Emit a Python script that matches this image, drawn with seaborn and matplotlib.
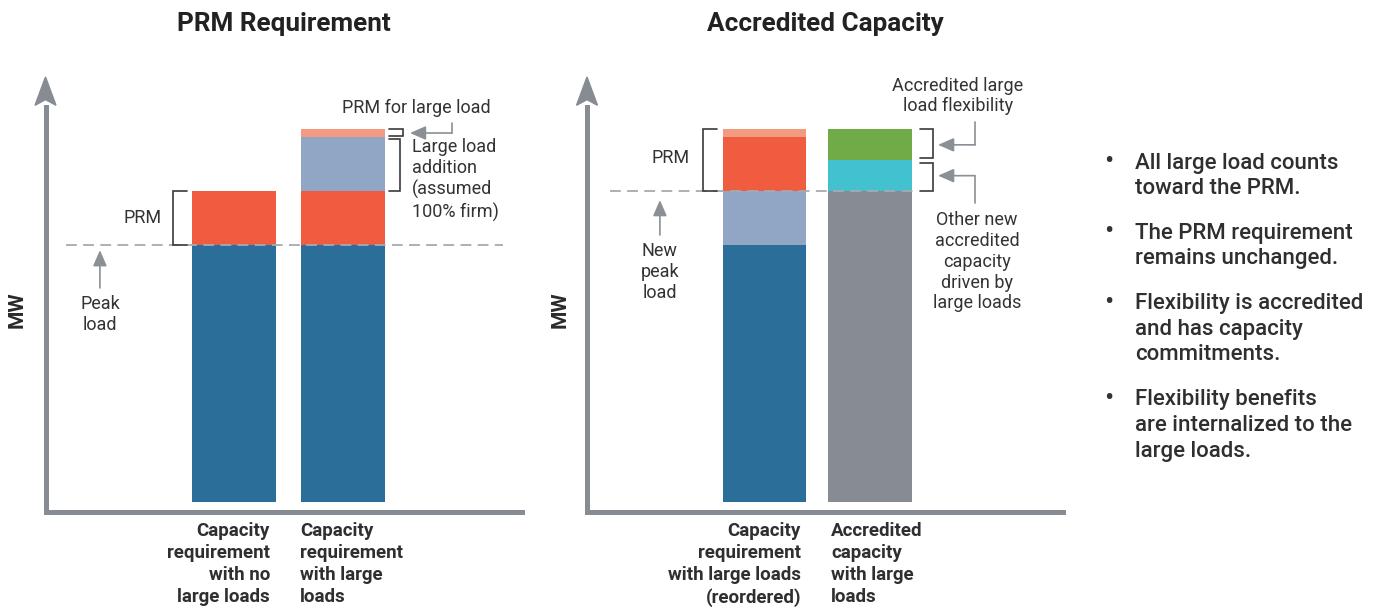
import numpy as np
import pandas as pd
import matplotlib
matplotlib.use("Agg")
import matplotlib.pyplot as plt
import matplotlib.transforms as mtransforms
from matplotlib.patches import Polygon
import seaborn as sns

sns.set_style("white")
plt.rcParams["font.family"] = ["Roboto", "DejaVu Sans"]

# ---------------- data (MW, schematic units) ----------------
req_bars = ["Capacity\nrequirement\nwith no\nlarge loads",
            "Capacity\nrequirement\nwith large\nloads"]
req_no_large_parts = ["Peak load", "PRM"]
req_no_large_mw = [100, 21]
req_with_large_parts = ["Peak load", "PRM", "Large load addition", "PRM for large load"]
req_with_large_mw = [100, 21, 21, 3]

acc_bars = ["Capacity\nrequirement\nwith large loads\n(reordered)",
            "Accredited\ncapacity\nwith large\nloads"]
acc_reordered_parts = ["Peak load", "Large load addition", "PRM", "PRM for large load"]
acc_reordered_mw = [100, 21, 21, 3]
acc_capacity_parts = ["Existing accredited capacity", "Other new accredited capacity",
                      "Accredited large load flexibility"]
acc_capacity_mw = [121, 12, 12]

notes = [
    ["All large load counts", "toward the PRM."],
    ["The PRM requirement", "remains unchanged."],
    ["Flexibility is accredited", "and has capacity", "commitments."],
    ["Flexibility benefits", "are internalized to the", "large loads."],
]

part_colors = {
    "Peak load": "#2b6e9a",
    "PRM": "#f05c40",
    "Large load addition": "#91a6c4",
    "PRM for large load": "#f49a80",
    "Existing accredited capacity": "#878c93",
    "Other new accredited capacity": "#42c1d0",
    "Accredited large load flexibility": "#70ab47",
}

AXIS = "#878c92"
INK = "#3a3a3a"
POINTER = "#8a9096"
DASH = "#a6aaae"

W, H = 1374, 610
fig = plt.figure(figsize=(W / 100, H / 100), dpi=100)


def fx(px):
    return px / W


def fy(py):
    return 1 - py / H


def stack_frame(bars, parts_list, mw_list):
    rows = []
    for bar, parts, mws in zip(bars, parts_list, mw_list):
        bottom = 0
        for part, mw in zip(parts, mws):
            rows.append(dict(bar=bar, part=part, mw=mw, bottom=bottom))
            bottom += mw
    return pd.DataFrame(rows)


def draw_stacks(ax, frame, order, width):
    for idx, row in frame.iterrows():
        sns.barplot(data=frame.loc[[idx]], x="bar", y="mw", order=order,
                    bottom=row["bottom"], color=part_colors[row["part"]],
                    saturation=1, width=width, errorbar=None, linewidth=0,
                    ax=ax)


def style_axes(ax, title, xlim, ylim):
    ax.set_xlim(*xlim)
    ax.set_ylim(*ylim)
    ax.set_yticks([])
    ax.set_xlabel("")
    ax.set_ylabel("")
    for side in ("top", "right"):
        ax.spines[side].set_visible(False)
    for side in ("left", "bottom"):
        ax.spines[side].set_color(AXIS)
        ax.spines[side].set_linewidth(3.6)
    ax.spines["left"].set_bounds(ylim[0], ylim[1] - 0.07 * (ylim[1] - ylim[0]))
    ax.add_patch(Polygon([(-0.022, 0.935), (0, 0.948), (0.022, 0.935), (0, 1.0)],
                         closed=True, transform=ax.transAxes, color=AXIS,
                         clip_on=False, zorder=5))
    ax.tick_params(axis="x", length=0, pad=7)
    ax.set_title(title, fontsize=18.8, fontweight="bold", color="#222222", pad=33)


def set_bar_labels(ax, labels, shifts, aligns):
    ax.set_xticks(range(len(labels)))
    ax.set_xticklabels(labels, fontsize=13.5, fontweight="semibold", color="#2f2f2f",
                       linespacing=1.3)
    for lab, dx, ha in zip(ax.get_xticklabels(), shifts, aligns):
        lab.set_horizontalalignment(ha)
        lab.set_multialignment(ha)
        lab.set_transform(lab.get_transform() +
                          mtransforms.ScaledTranslation(dx / 100, 0, fig.dpi_scale_trans))


def bracket(ax, x_open, x_spine, y0, y1):
    ax.plot([x_open, x_spine, x_spine, x_open], [y0, y0, y1, y1], color=INK, lw=1.2,
            solid_joinstyle="miter", clip_on=False, zorder=4)


def pointer(ax, path):
    xs, ys = zip(*path)
    if len(path) > 2:
        ax.plot(xs[:-1], ys[:-1], color=POINTER, lw=1.2, clip_on=False, zorder=4)
    ax.annotate("", xy=path[-1], xytext=path[-2], annotation_clip=False,
                arrowprops=dict(arrowstyle="-|>,head_length=0.8,head_width=0.35",
                                color=POINTER, lw=1.2, shrinkA=0, shrinkB=0,
                                mutation_scale=12))


def note(ax, x, y, s, **kw):
    ax.text(x, y, s, fontsize=13, color="#333333", linespacing=1.2, **kw)


YLIM = (-3.9, 165.4)

# ---------------- PRM requirement ----------------
ax1 = fig.add_axes([fx(45.5), fy(512), fx(522) - fx(45.5), fy(77) - fy(512)])
req = stack_frame(req_bars, [req_no_large_parts, req_with_large_parts],
                  [req_no_large_mw, req_with_large_mw])
draw_stacks(ax1, req, req_bars, 0.767)
style_axes(ax1, "PRM Requirement", (-1.721, 2.630), YLIM)
set_bar_labels(ax1, req_bars, [36, -43.5], ["right", "left"])

peak = req_no_large_mw[0]
prm = req_no_large_mw[1]
large = req_with_large_mw[2]
prm_large = req_with_large_mw[3]

ax1.hlines(peak, -1.534, 2.457, colors=DASH, linestyles=(0, (6, 3.5)), lw=1.3, zorder=3)
bracket(ax1, -0.429, -0.557, peak, peak + prm)
note(ax1, -0.66, peak + prm / 2, "PRM", ha="right", va="center")
pointer(ax1, [(-1.224, 83.3), (-1.224, 98.0)])
note(ax1, -1.224, 80.5, "Peak\nload", ha="center", va="top")

top_req = peak + prm + large
bracket(ax1, 1.416, 1.543, top_req + 0.5, top_req + prm_large)
bracket(ax1, 1.416, 1.516, peak + prm, top_req - 0.6)
pointer(ax1, [(1.991, 147.5), (1.991, 143.6), (1.607, 143.6)])
note(ax1, 0.986, 153.3, "PRM for large load", ha="left", va="center")
note(ax1, 1.626, 141.5, "Large load\naddition\n(assumed\n100% firm)", ha="left", va="top")

# ---------------- Accredited capacity ----------------
ax2 = fig.add_axes([fx(587), fy(512), fx(1063) - fx(587), fy(77) - fy(512)])
acc = stack_frame(acc_bars, [acc_reordered_parts, acc_capacity_parts],
                  [acc_reordered_mw, acc_capacity_mw])
draw_stacks(ax2, acc, acc_bars, 0.79)
style_axes(ax2, "Accredited Capacity", (-1.682, 2.829), YLIM)
set_bar_labels(ax2, acc_bars, [36.5, -39], ["right", "left"])

new_peak = acc_reordered_mw[0] + acc_reordered_mw[1]
acc_prm = acc_reordered_mw[2] + acc_reordered_mw[3]
other_new = acc_capacity_mw[1]
flex = acc_capacity_mw[2]

ax2.hlines(new_peak, -1.464, 1.457, colors=DASH, linestyles=(0, (6, 3.5)), lw=1.3, zorder=3)
bracket(ax2, -0.450, -0.583, new_peak, new_peak + acc_prm)
note(ax2, -0.706, new_peak + acc_prm / 2 + 1, "PRM", ha="right", va="center")
pointer(ax2, [(-0.991, 103.9), (-0.991, 117.5)])
note(ax2, -0.991, 101.2, "New\npeak\nload", ha="center", va="top")

flex_base = acc_capacity_mw[0] + other_new
bracket(ax2, 1.474, 1.597, flex_base + 0.9, flex_base + flex)
bracket(ax2, 1.474, 1.597, acc_capacity_mw[0], flex_base - 0.9)
pointer(ax2, [(1.995, 147.9), (1.995, flex_base + flex / 2), (1.645, flex_base + flex / 2)])
pointer(ax2, [(1.995, 116.3), (1.995, acc_capacity_mw[0] + other_new / 2),
              (1.645, acc_capacity_mw[0] + other_new / 2)])
note(ax2, 1.834, 158.0, "Accredited large\nload flexibility", ha="center", va="center")
note(ax2, 2.014, 113.2, "Other new\naccredited\ncapacity\ndriven by\nlarge loads",
     ha="center", va="top")

# ---------------- axis titles ----------------
for x_px in (17, 560):
    fig.text(fx(x_px), fy(310), "MW", rotation=90, ha="center", va="center",
             fontsize=15, fontweight="bold", color="#2a2a2a")

# ---------------- takeaway bullets ----------------
y = 161
for item in notes:
    fig.text(fx(1104), fy(y + 8), "\u2022", fontsize=20, color="#333333",
             ha="left", va="baseline")
    for line in item:
        fig.text(fx(1135), fy(y + 7.5), line, fontsize=16, fontweight="medium",
                 color="#2f2f2f", ha="left", va="baseline")
        y += 25.5
    y += 45 - 25.5

fig.savefig("out.png", dpi=100)
